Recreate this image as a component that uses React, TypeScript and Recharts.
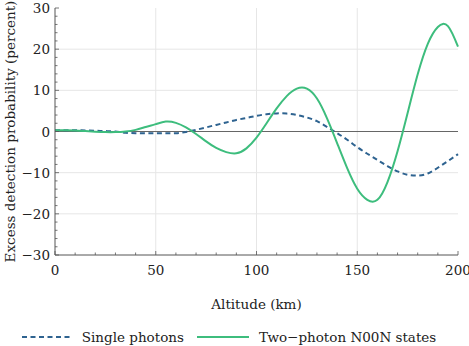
import React from "react";
import {
  LineChart,
  Line,
  XAxis,
  YAxis,
  CartesianGrid,
  ReferenceLine,
  Legend,
} from "recharts";

const altitude = [
  0, 5, 10, 15, 20, 25, 30, 35, 40, 45, 50, 55, 60, 65, 70, 75, 80, 85, 90, 95,
  100, 105, 110, 115, 120, 125, 130, 135, 140, 145, 150, 155, 160, 165, 170,
  175, 180, 185, 190, 195, 200,
];

const singlePhotons = [
  0.3, 0.3, 0.3, 0.25, 0.2, 0.1, 0.0, -0.3, -0.4, -0.45, -0.45, -0.45, -0.4,
  -0.1, 0.4, 1.0, 1.6, 2.2, 2.8, 3.3, 3.8, 4.2, 4.4, 4.35, 4.0, 3.4, 2.5, 1.1,
  -0.4, -2.0, -3.8, -5.4, -6.9, -8.4, -9.7, -10.5, -10.7, -10.2, -8.8, -7.2,
  -5.5,
];

const noonStates = [
  0.3, 0.3, 0.25, 0.1, -0.05, -0.15, -0.15, 0.0, 0.4, 1.1, 1.8, 2.4, 2.1, 1.0,
  -0.6, -2.4, -4.0, -5.0, -5.3, -4.1, -1.5, 2.0, 5.6, 8.6, 10.4, 10.4, 8.0, 3.2,
  -2.8, -8.9, -13.9, -16.6, -16.6, -12.3, -4.8, 4.5, 13.9, 21.3, 25.4, 25.6,
  20.6,
];

const xTicks = Array.from({ length: 21 }, (_, i) => i * 10);
const yTicks = Array.from({ length: 31 }, (_, i) => -30 + i * 2);

const data = altitude.map((a, i) => ({
  altitude: a,
  single: singlePhotons[i],
  noon: noonStates[i],
}));

const FONT = "DejaVu Serif";
const FS = 13.5;
const FRAME = "#555";
const BLUE = "#2e6390";
const GREEN = "#3dbd7d";

const fmt = (v: number) => (v < 0 ? "\u2212" + Math.abs(v) : String(v));

// ticks point inwards, labels only on the major ones
const XTick = ({ x, y, payload, top }: any) => {
  const major = payload.value % 50 === 0;
  const len = major ? 4 : 2.5;
  const dir = top ? 1 : -1;
  return (
    <g>
      <line x1={x} x2={x} y1={y} y2={y + dir * len} stroke={FRAME} strokeWidth={0.8} />
      {!top && major && (
        <text x={x} y={y + 20} textAnchor="middle" fontFamily={FONT} fontSize={FS} fill="#222">
          {fmt(payload.value)}
        </text>
      )}
    </g>
  );
};

const YTick = ({ x, y, payload, right }: any) => {
  const major = payload.value % 10 === 0;
  const len = major ? 4 : 2.5;
  const dir = right ? -1 : 1;
  return (
    <g>
      <line x1={x} x2={x + dir * len} y1={y} y2={y} stroke={FRAME} strokeWidth={0.8} />
      {!right && major && (
        <text x={x - 5} y={y + 5} textAnchor="end" fontFamily={FONT} fontSize={FS} fill="#222">
          {fmt(payload.value)}
        </text>
      )}
    </g>
  );
};

const YLabel = ({ viewBox }: any) => {
  const cy = viewBox.y + viewBox.height / 2;
  return (
    <text
      x={15}
      y={cy}
      transform={`rotate(-90 15 ${cy})`}
      textAnchor="middle"
      fontFamily={FONT}
      fontSize={FS}
      fill="#222"
    >
      Excess detection probability (percent)
    </text>
  );
};

const LegendContent = () => (
  <div
    style={{
      display: "flex",
      justifyContent: "center",
      alignItems: "center",
      fontFamily: FONT,
      fontSize: FS,
      color: "#222",
      paddingTop: 7,
    }}
  >
    <svg width={48} height={6} style={{ marginRight: 12 }}>
      <line x1={0} x2={48} y1={3} y2={3} stroke={BLUE} strokeWidth={2} strokeDasharray="5 3.5" />
    </svg>
    <span>Single photons</span>
    <svg width={52} height={6} style={{ marginLeft: 13, marginRight: 10 }}>
      <line x1={0} x2={52} y1={3} y2={3} stroke={GREEN} strokeWidth={2} />
    </svg>
    <span>Two&#8722;photon N00N states</span>
  </div>
);

export default function App() {
  return (
    <div style={{ position: "absolute", left: 0, top: 0, background: "#fff" }}>
      <LineChart
        width={469}
        height={346}
        data={data}
        margin={{ top: 8, right: 11, bottom: 0, left: 0 }}
      >
        <CartesianGrid
          stroke="#e6e6e6"
          strokeWidth={1}
          horizontalValues={[-20, -10, 10, 20]}
          verticalValues={[50, 100, 150]}
        />
        <XAxis
          dataKey="altitude"
          type="number"
          domain={[0, 200]}
          ticks={xTicks}
          interval={0}
          tickLine={false}
          tickSize={0}
          tickMargin={0}
          axisLine={{ stroke: FRAME }}
          tick={<XTick />}
          height={67}
          label={{
            value: "Altitude (km)",
            position: "insideBottom",
            offset: 13,
            style: { fontFamily: FONT, fontSize: FS, fill: "#222" },
          }}
        />
        <XAxis
          xAxisId="top"
          orientation="top"
          dataKey="altitude"
          type="number"
          domain={[0, 200]}
          ticks={xTicks}
          interval={0}
          tickLine={false}
          tickSize={0}
          tickMargin={0}
          axisLine={{ stroke: FRAME }}
          tick={<XTick top />}
          height={0}
        />
        <YAxis
          type="number"
          domain={[-30, 30]}
          ticks={yTicks}
          interval={0}
          tickLine={false}
          tickSize={0}
          tickMargin={0}
          axisLine={{ stroke: FRAME }}
          tick={<YTick />}
          width={55}
          label={<YLabel />}
        />
        <YAxis
          yAxisId="right"
          orientation="right"
          type="number"
          domain={[-30, 30]}
          ticks={yTicks}
          interval={0}
          tickLine={false}
          tickSize={0}
          tickMargin={0}
          axisLine={{ stroke: FRAME }}
          tick={<YTick right />}
          width={0}
        />
        <ReferenceLine y={0} stroke="#666" strokeWidth={1} />
        <Line
          type="natural"
          dataKey="single"
          stroke={BLUE}
          strokeWidth={2}
          strokeDasharray="5 3.5"
          dot={false}
          isAnimationActive={false}
        />
        <Line
          type="natural"
          dataKey="noon"
          stroke={GREEN}
          strokeWidth={2}
          dot={false}
          isAnimationActive={false}
        />
        <Legend verticalAlign="bottom" height={24} content={<LegendContent />} />
      </LineChart>
    </div>
  );
}
